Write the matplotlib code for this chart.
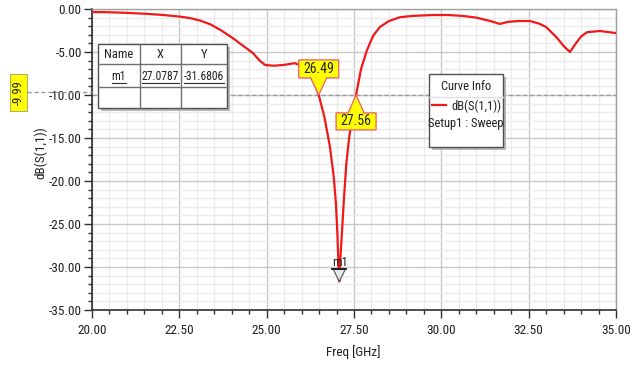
import matplotlib
matplotlib.use("Agg")
import matplotlib.pyplot as plt
import numpy as np
from matplotlib import font_manager
from matplotlib.patches import Polygon, Rectangle
from matplotlib.lines import Line2D
from matplotlib.transforms import IdentityTransform
from matplotlib.ticker import MultipleLocator, FormatStrFormatter

# ---------------- data ----------------
freq = [20.0, 20.5, 21.0, 21.5, 22.0, 22.5, 22.8, 23.1, 23.4, 23.7, 24.0, 24.3,
        24.6, 24.8, 24.95, 25.2, 25.5, 25.8, 26.0, 26.2, 26.35, 26.49, 26.65,
        26.81, 26.92, 26.98, 27.02, 27.05, 27.0787, 27.11, 27.16, 27.21, 27.28,
        27.36, 27.44, 27.56, 27.7, 27.87, 28.05, 28.24, 28.5, 28.82, 29.2, 29.76,
        30.2, 30.6, 31.0, 31.4, 31.68, 31.9, 32.2, 32.54, 32.8, 33.0, 33.3, 33.5,
        33.68, 33.85, 34.0, 34.17, 34.54, 35.0]
s11_db = [-0.35, -0.38, -0.45, -0.55, -0.68, -0.88, -1.05, -1.35, -1.8, -2.5, -3.3, -4.2,
          -5.1, -6.0, -6.5, -6.6, -6.5, -6.3, -6.6, -7.4, -8.5, -9.99, -12.5,
          -16.0, -19.5, -22.5, -25.7, -29.0, -31.6806, -29.0, -25.7, -22.2, -18.0,
          -15.0, -12.9, -9.99, -7.0, -4.8, -3.1, -2.1, -1.4, -0.95, -0.8, -0.7,
          -0.7, -0.8, -1.0, -1.4, -1.74, -1.5, -1.4, -1.4, -1.7, -2.1, -3.3, -4.3,
          -5.0, -4.0, -3.2, -2.7, -2.56, -2.8]
marker_name = "m1"
marker_x = 27.0787
marker_y = -31.6806
level_db = -9.99
cross_x = [26.49, 27.56]
curve_name = "dB(S(1,1))"
setup_name = "Setup1 : Sweep"

# ---------------- fonts ----------------
names = {f.name for f in font_manager.fontManager.ttflist}
FONT = "Liberation Sans"
fs = 9.0
for cand in ["Liberation Sans Narrow", "Arial Narrow", "Roboto Condensed", "Open Sans Condensed"]:
    if cand in names:
        FONT = cand
        fs = 9.5
        break
plt.rcParams['font.family'] = [FONT, 'DejaVu Sans']
tfs = fs - 0.5  # annotation font size

W, H = 642, 365
fig = plt.figure(figsize=(W / 100, H / 100), dpi=100)
fig.patch.set_facecolor("white")

def fx(x):
    return x / W

def fy(y):
    return 1 - y / H

ax = fig.add_axes([fx(92), fy(310), fx(616) - fx(92), fy(9) - fy(310)])
ax.set_xlim(20, 35)
ax.set_ylim(-35, 0)

ax.plot(freq, s11_db, color="#f01818", lw=1.6, zorder=3)

ax.xaxis.set_major_locator(MultipleLocator(2.5))
ax.xaxis.set_minor_locator(MultipleLocator(0.5))
ax.yaxis.set_major_locator(MultipleLocator(5))
ax.yaxis.set_minor_locator(MultipleLocator(1))
ax.xaxis.set_major_formatter(FormatStrFormatter("%.2f"))
ax.yaxis.set_major_formatter(FormatStrFormatter("%.2f"))
ax.grid(which="major", color="#c8c8c8", lw=1.0)
ax.grid(which="minor", color="#ebebeb", lw=1.0)
ax.set_axisbelow(True)
ax.tick_params(which="major", direction="out", length=6, width=1, color="#303030",
               labelsize=fs, labelcolor="#202020", pad=1.5)
ax.tick_params(which="minor", direction="out", length=3, width=1, color="#303030")
ax.tick_params(axis="x", which="major", pad=4)
for s in ["left", "bottom"]:
    ax.spines[s].set_color("#303030")
    ax.spines[s].set_linewidth(1.2)
for s in ["top", "right"]:
    ax.spines[s].set_color("#a0a0a0")
    ax.spines[s].set_linewidth(1.0)

fig.text(fx(353), fy(352), "Freq [GHz]", ha="center", va="center", fontsize=fs, color="#202020")
fig.text(fx(41), fy(153), "dB(S(1,1))", ha="center", va="center", rotation=90,
         fontsize=fs, color="#202020")

# dashed level line
ax.plot([20, 35], [level_db, level_db], color="#9a9a9a", lw=1.0, ls=(0, (3, 2)), zorder=2)
fig.add_artist(Line2D([fx(27), fx(92)], [fy(92), fy(92)], color="#9a9a9a", lw=1.0,
                      ls=(0, (3, 2)), transform=fig.transFigure))
# left yellow level tag
fig.add_artist(Rectangle((fx(10), fy(111)), fx(17), fy(74) - fy(111), transform=fig.transFigure,
                         facecolor="#ffff00", edgecolor="#b0b060", lw=0.8))
fig.text(fx(18.5), fy(92.5), f"{level_db:.2f}", rotation=90, ha="center", va="center",
         fontsize=tfs, color="#202020")

fig.canvas.draw()
idt = IdentityTransform()

def callout(xv, yv, up, label):
    px, py = ax.transData.transform((xv, yv))
    if up:  # box above the point
        pts = [(-20, -35), (20, -35), (20, -17), (8, -17), (0, 0), (-8, -17), (-20, -17)]
        ty = -26
    else:
        pts = [(-20, 35), (20, 35), (20, 18), (8, 18), (0, 0), (-8, 18), (-20, 18)]
        ty = 26.5
    verts = [(px + dx, py - dy) for dx, dy in pts]
    fig.add_artist(Polygon(verts, closed=True, transform=idt, facecolor="#ffff00",
                           edgecolor="#ee6a6a", lw=1.0, zorder=10))
    fig.text(px, py - ty, label, transform=idt, ha="center", va="center",
             fontsize=fs + 0.5, color="#202020", zorder=11)

callout(cross_x[0], level_db, True, f"{cross_x[0]:.2f}")
callout(cross_x[1], level_db, False, f"{cross_x[1]:.2f}")

# m1 marker
mx, my = ax.transData.transform((marker_x, marker_y))
fig.add_artist(Polygon([(mx - 6, my + 12), (mx + 6, my + 12), (mx, my)], closed=True,
                       transform=idt, facecolor="#e8e8e8", edgecolor="#505050", lw=0.8, zorder=9))
fig.add_artist(Line2D([mx - 7, mx + 7], [my + 12, my + 12], transform=idt, color="#202020",
                      lw=1.4, zorder=9))
fig.text(mx + 1, my + 12, marker_name, transform=idt, ha="center", va="bottom",
         fontsize=tfs, color="#202020", zorder=11)

# marker table
def frect(x0, y0, x1, y1, **kw):
    return Rectangle((fx(x0), fy(y1)), fx(x1) - fx(x0), fy(y0) - fy(y1),
                     transform=fig.transFigure, **kw)

fig.add_artist(frect(101, 47, 230, 111, facecolor="#b8b8b8", edgecolor="none", zorder=12))
fig.add_artist(frect(98, 44, 227, 108, facecolor="white", edgecolor="#505050", lw=1.0, zorder=13))
for xl in [140, 181]:
    fig.add_artist(Line2D([fx(xl), fx(xl)], [fy(44), fy(108)], color="#707070", lw=1.0,
                          transform=fig.transFigure, zorder=14))
for yl in [64, 87]:
    fig.add_artist(Line2D([fx(98), fx(227)], [fy(yl), fy(yl)], color="#707070", lw=1.0,
                          transform=fig.transFigure, zorder=14))
headers = ["Name", "X", "Y"]
row = [marker_name, f"{marker_x:.4f}", f"{marker_y:.4f}"]
cx = [119, 160.5, 204]
for c, h in zip(cx, headers):
    fig.text(fx(c), fy(55), h, ha="center", va="center", fontsize=tfs, color="#202020", zorder=15)
row_texts = []
for c, r in zip(cx, row):
    row_texts.append(fig.text(fx(c), fy(76), r, ha="center", va="center",
                              fontsize=tfs - 0.6,
                              color="#202020", zorder=15))
fig.canvas.draw()
rend = fig.canvas.get_renderer()
for t in row_texts:
    bb = t.get_window_extent(rend)
    fig.add_artist(Line2D([bb.x0, bb.x1], [bb.y0 - 0.5, bb.y0 - 0.5], transform=idt,
                          color="#303030", lw=0.8, zorder=15))

# curve info box
fig.add_artist(frect(432, 77, 506, 150, facecolor="#b8b8b8", edgecolor="none", zorder=12))
fig.add_artist(frect(429, 74, 503, 147, facecolor="white", edgecolor="#505050", lw=1.0, zorder=13))
fig.add_artist(Line2D([fx(429), fx(503)], [fy(97), fy(97)], color="#e0e0e0", lw=1.0,
                      transform=fig.transFigure, zorder=14))
fig.text(fx(466), fy(86), "Curve Info", ha="center", va="center", fontsize=tfs,
         color="#202020", zorder=15)
fig.add_artist(Line2D([fx(432), fx(446)], [fy(105), fy(105)], color="#f01818", lw=1.6,
                      transform=fig.transFigure, zorder=15))
fig.text(fx(501), fy(106), curve_name, ha="right", va="center", fontsize=tfs,
         color="#202020", zorder=15)
fig.text(fx(466), fy(123), setup_name, ha="center", va="center", fontsize=tfs,
         color="#202020", zorder=15)

fig.savefig("out.png", dpi=100)
